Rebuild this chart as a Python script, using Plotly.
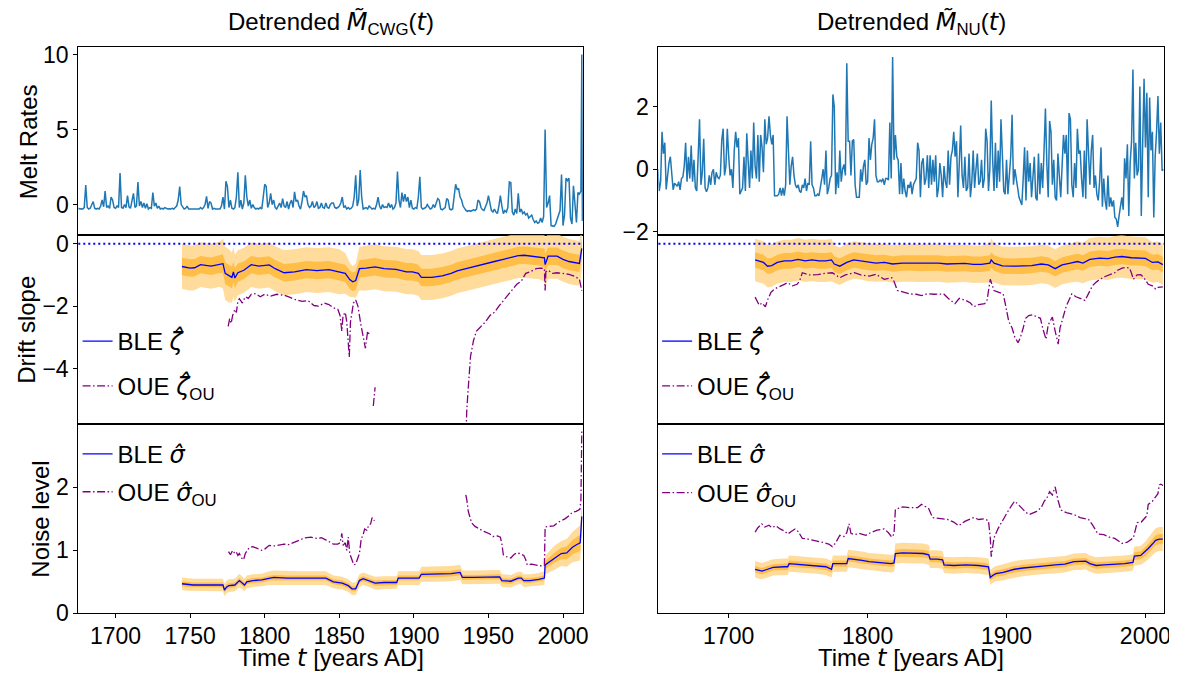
import plotly.graph_objects as go

W, H = 1177, 675
FONT = "Arial, 'Liberation Sans', sans-serif"
MATH = "font-family:'DejaVu Sans'"

# ---------------- data ----------------
# Detrended melt rates, CWG core  (year, value)
cwg_melt = [
(1675,-0.25),(1676,-0.3),(1677,-0.28),(1678,-0.3),(1679,-0.2),(1680,1.3),(1681,-0.2),(1682,-0.3),(1683,-0.25),(1684,0.0),
(1685,0.2),(1686,-0.25),(1687,-0.3),(1688,-0.25),(1689,-0.3),(1690,-0.1),(1691,0.3),(1692,-0.15),(1693,0.9),(1694,-0.2),
(1695,-0.1),(1696,-0.25),(1697,0.5),(1698,0.3),(1699,-0.2),(1700,-0.25),(1701,-0.1),(1702,-0.2),(1703,2.1),(1704,-0.2),
(1705,-0.25),(1706,0.0),(1707,-0.2),(1708,0.6),(1709,-0.15),(1710,-0.25),(1711,0.4),(1712,0.75),(1713,-0.2),(1714,-0.1),
(1715,1.5),(1716,-0.1),(1717,0.2),(1718,-0.2),(1719,0.1),(1720,-0.25),(1721,0.05),(1722,-0.3),(1723,-0.2),(1724,-0.25),
(1725,0.8),(1726,-0.1),(1727,0.1),(1728,-0.25),(1729,-0.1),(1730,-0.3),(1731,-0.25),(1732,-0.3),(1733,-0.2),(1734,-0.25),
(1735,-0.3),(1736,-0.28),(1737,-0.3),(1738,-0.25),(1739,-0.3),(1740,-0.2),(1741,-0.1),(1742,0.3),(1743,1.2),(1744,0.0),
(1745,-0.2),(1746,-0.3),(1747,-0.25),(1748,-0.1),(1749,-0.3),(1750,-0.3),(1751,-0.3),(1752,-0.28),(1753,-0.3),(1754,-0.3),
(1755,-0.32),(1756,-0.3),(1757,-0.2),(1758,-0.3),(1759,-0.2),(1760,0.0),(1761,0.55),(1762,-0.25),(1763,0.2),(1764,0.1),
(1765,-0.3),(1766,-0.25),(1767,-0.3),(1768,-0.3),(1769,-0.25),(1770,-0.3),(1771,-0.1),(1772,0.5),(1773,-0.3),(1774,1.55),
(1775,1.2),(1776,-0.2),(1777,0.3),(1778,-0.25),(1779,-0.3),(1780,-0.2),(1781,0.5),(1782,2.15),(1783,-0.2),(1784,0.3),
(1785,-0.3),(1786,0.1),(1787,1.95),(1788,0.5),(1789,-0.1),(1790,0.3),(1791,-0.25),(1792,0.0),(1793,-0.2),(1794,-0.3),
(1795,-0.25),(1796,-0.3),(1797,-0.2),(1798,-0.3),(1799,0.5),(1800,1.35),(1801,1.2),(1802,-0.2),(1803,0.1),(1804,0.75),
(1805,0.0),(1806,0.3),(1807,-0.2),(1808,-0.3),(1809,-0.1),(1810,0.1),(1811,-0.2),(1812,0.4),(1813,-0.1),(1814,-0.2),
(1815,0.2),(1816,-0.3),(1817,0.1),(1818,0.3),(1819,-0.2),(1820,0.85),(1821,0.2),(1822,0.3),(1823,-0.1),(1824,-0.3),
(1825,0.2),(1826,0.9),(1827,0.5),(1828,0.6),(1829,0.0),(1830,-0.2),(1831,-0.1),(1832,0.2),(1833,-0.2),(1834,-0.1),
(1835,0.2),(1836,-0.25),(1837,-0.2),(1838,0.1),(1839,-0.2),(1840,-0.25),(1841,0.1),(1842,-0.2),(1843,-0.25),(1844,0.0),
(1845,0.1),(1846,0.1),(1847,-0.2),(1848,-0.25),(1849,-0.2),(1850,-0.1),(1851,0.1),(1852,0.5),(1853,-0.2),(1854,-0.1),
(1855,-0.3),(1856,-0.2),(1857,-0.3),(1858,-0.25),(1859,-0.1),(1860,0.5),(1861,1.95),(1862,-0.1),(1863,0.3),(1864,2.3),
(1865,0.5),(1866,-0.3),(1867,-0.25),(1868,-0.2),(1869,-0.3),(1870,-0.1),(1871,-0.2),(1872,-0.3),(1873,-0.25),(1874,-0.3),
(1875,0.0),(1876,0.5),(1877,-0.1),(1878,-0.3),(1879,0.0),(1880,-0.2),(1881,-0.15),(1882,-0.2),(1883,0.1),(1884,-0.2),
(1885,0.0),(1886,-0.3),(1887,-0.2),(1888,0.1),(1889,2.2),(1890,0.3),(1891,-0.2),(1892,0.8),(1893,0.2),(1894,0.7),
(1895,0.2),(1896,0.5),(1897,-0.2),(1898,0.3),(1899,-0.25),(1900,-0.3),(1901,-0.2),(1902,-0.25),(1903,0.5),(1904,1.85),
(1905,-0.2),(1906,-0.3),(1907,-0.25),(1908,-0.2),(1909,0.0),(1910,-0.2),(1911,-0.3),(1912,-0.25),(1913,0.0),(1914,-0.2),
(1915,0.1),(1916,0.4),(1917,0.3),(1918,-0.3),(1919,-0.35),(1920,-0.3),(1921,-0.2),(1922,0.4),(1923,0.3),(1924,-0.3),
(1925,-0.35),(1926,-0.3),(1927,0.5),(1928,1.35),(1929,1.0),(1930,1.05),(1931,0.5),(1932,0.3),(1933,-0.1),(1934,-0.3),
(1935,-0.4),(1936,-0.45),(1937,-0.4),(1938,-0.45),(1939,-0.4),(1940,-0.35),(1941,-0.4),(1942,-0.3),(1943,0.3),(1944,0.2),
(1945,-0.2),(1946,-0.35),(1947,-0.4),(1948,-0.2),(1949,0.1),(1950,0.6),(1951,0.2),(1952,-0.4),(1953,-0.5),(1954,-0.3),
(1955,-0.5),(1956,-0.6),(1957,-0.1),(1958,0.6),(1959,-0.1),(1960,-0.6),(1961,-0.4),(1962,-0.5),(1963,-0.2),(1964,1.5),
(1965,1.45),(1966,-0.5),(1967,-0.7),(1968,-0.3),(1969,-0.6),(1970,0.75),(1971,-0.5),(1972,-0.3),(1973,-0.6),(1974,-0.5),
(1975,-0.7),(1976,-0.6),(1977,-0.9),(1978,-0.8),(1979,-0.7),(1980,-1.0),(1981,-1.2),(1982,-1.1),(1983,-1.25),(1984,-1.2),
(1985,-0.9),(1986,-1.2),(1987,-0.8),(1988,5.0),(1989,-0.2),(1990,0.1),(1991,0.6),(1992,-1.4),(1993,-1.45),(1994,-1.45),
(1995,-1.3),(1996,-1.0),(1997,-0.6),(1998,-0.4),(1999,2.0),(2000,-1.4),(2001,-0.7),(2002,1.75),(2003,1.6),(2004,1.75),
(2005,-0.9),(2006,-1.3),(2007,1.25),(2008,0.2),(2009,-1.2),(2010,0.8),(2011,0.7),(2012,0.9),(2012.6,10.0),(2013,-1.1)]

# Detrended melt rates, NU core  (year, value)
nu_melt = [
(1649,0.0),(1650,-0.7),(1651,-0.4),(1652,1.2),(1653,0.5),(1654,0.85),(1655,-0.65),(1656,-0.2),(1657,0.2),(1658,0.4),
(1659,-0.3),(1660,-0.66),(1661,-0.45),(1662,-0.5),(1663,-0.55),(1664,-0.4),(1665,-0.66),(1666,-0.3),(1667,-0.25),(1668,0.1),
(1669,0.85),(1670,-0.4),(1671,0.4),(1672,-0.3),(1673,0.76),(1674,-0.4),(1675,0.3),(1676,-0.6),(1677,-0.7),(1678,0.4),
(1679,1.6),(1680,-0.5),(1681,-0.1),(1682,0.98),(1683,-0.6),(1684,-0.72),(1685,-0.6),(1686,-0.2),(1687,-0.5),(1688,-0.1),
(1689,0.0),(1690,-0.5),(1691,-0.1),(1692,-0.25),(1693,-0.3),(1694,-0.2),(1695,0.93),(1696,1.3),(1697,-0.2),(1698,0.1),
(1699,1.3),(1700,0.4),(1701,-0.2),(1702,0.0),(1703,-0.6),(1704,0.6),(1705,1.2),(1706,0.7),(1707,1.0),(1708,-0.8),
(1709,-0.7),(1710,-0.6),(1711,0.4),(1712,-0.7),(1713,1.15),(1714,0.1),(1715,-0.6),(1716,0.6),(1717,-0.3),(1718,1.5),
(1719,0.1),(1720,-0.3),(1721,1.1),(1722,-0.4),(1723,1.1),(1724,0.7),(1725,-0.1),(1726,1.6),(1727,0.8),(1728,1.0),
(1729,1.7),(1730,1.1),(1731,0.8),(1732,1.1),(1733,-0.85),(1734,-0.85),(1735,-0.85),(1736,-0.8),(1737,-0.6),(1738,-0.85),
(1739,-0.6),(1740,-0.85),(1741,-0.5),(1742,1.7),(1743,0.2),(1744,-0.5),(1745,0.1),(1746,0.4),(1747,-0.2),(1748,-0.5),
(1749,-0.6),(1750,-0.5),(1751,-0.7),(1752,-0.75),(1753,-0.5),(1754,-0.6),(1755,-0.3),(1756,-0.7),(1757,-0.45),(1758,-0.5),
(1759,0.9),(1760,-0.5),(1761,-0.6),(1762,-0.85),(1763,-0.85),(1764,-0.8),(1765,-0.85),(1766,-0.5),(1767,-0.3),(1768,0.0),
(1769,-0.5),(1770,0.6),(1771,-0.8),(1772,-0.6),(1773,-0.3),(1774,-0.2),(1775,2.4),(1776,2.0),(1777,-0.8),(1778,-0.1),
(1779,-0.6),(1780,0.6),(1781,-0.4),(1782,0.0),(1783,0.15),(1784,-0.2),(1785,3.4),(1786,0.9),(1787,0.9),(1788,-0.2),
(1789,0.9),(1790,0.95),(1791,-0.5),(1792,-0.9),(1793,-0.9),(1794,-0.9),(1795,0.0),(1796,-0.4),(1797,0.1),(1798,0.3),
(1799,-0.5),(1800,-0.4),(1801,1.0),(1802,0.3),(1803,0.8),(1804,1.0),(1805,1.6),(1806,-0.2),(1807,-0.4),(1808,-0.4),
(1809,-0.35),(1810,-0.4),(1811,-0.3),(1812,-0.5),(1813,-0.3),(1814,-0.3),(1815,-0.35),(1816,1.5),(1817,-0.3),(1818,3.6),
(1819,0.3),(1820,1.1),(1821,0.4),(1822,0.3),(1823,-0.8),(1824,0.2),(1825,-0.8),(1826,-0.3),(1827,-0.7),(1828,-0.9),
(1829,-0.5),(1830,-0.6),(1831,-0.4),(1832,-0.8),(1833,-0.5),(1834,-0.4),(1835,-0.3),(1836,0.85),(1837,0.6),(1838,-0.9),
(1839,0.2),(1840,0.35),(1841,-0.5),(1842,-0.3),(1843,0.45),(1844,-0.6),(1845,0.45),(1846,-0.5),(1847,0.3),(1848,-0.4),
(1849,0.45),(1850,-0.9),(1851,-0.6),(1852,0.2),(1853,-0.2),(1854,-0.9),(1855,0.1),(1856,-0.4),(1857,-0.6),(1858,0.6),
(1859,-0.5),(1860,0.4),(1861,0.6),(1862,1.2),(1863,0.4),(1864,0.9),(1865,-0.9),(1866,0.2),(1867,1.4),(1868,-0.2),
(1869,-0.6),(1870,0.4),(1871,-0.7),(1872,-0.6),(1873,0.5),(1874,-0.9),(1875,-0.4),(1876,0.6),(1877,-0.6),(1878,0.0),
(1879,0.5),(1880,-0.5),(1881,-0.4),(1882,0.3),(1883,-0.6),(1884,-0.3),(1885,1.3),(1886,0.9),(1887,-0.7),(1888,0.0),
(1889,2.2),(1890,0.3),(1891,-0.7),(1892,0.85),(1893,-0.6),(1894,0.6),(1895,-0.4),(1896,1.6),(1897,0.5),(1898,-0.7),
(1899,-0.8),(1900,0.3),(1901,-0.8),(1902,-0.2),(1903,0.4),(1904,1.75),(1905,-0.5),(1906,0.0),(1907,-0.4),(1908,-0.6),
(1909,-0.9),(1910,-1.0),(1911,-1.15),(1912,-0.3),(1913,0.7),(1914,-1.0),(1915,0.6),(1916,-0.4),(1917,0.2),(1918,-0.9),
(1919,-0.3),(1920,0.4),(1921,-0.9),(1922,-1.0),(1923,0.5),(1924,-0.8),(1925,0.2),(1926,-0.6),(1927,0.6),(1928,1.95),
(1929,0.2),(1930,-0.9),(1931,1.55),(1932,1.2),(1933,-0.5),(1934,0.3),(1935,-0.9),(1936,-1.0),(1937,0.5),(1938,-0.4),
(1939,-0.9),(1940,0.1),(1941,1.1),(1942,0.5),(1943,1.1),(1944,-0.8),(1945,1.8),(1946,1.6),(1947,-0.5),(1948,-0.9),
(1949,0.2),(1950,-0.6),(1951,1.3),(1952,0.5),(1953,0.6),(1954,-0.3),(1955,-0.9),(1956,0.6),(1957,-0.95),(1958,1.6),
(1959,0.5),(1960,-0.5),(1961,0.6),(1962,1.1),(1963,-0.6),(1964,-0.2),(1965,-0.8),(1966,-1.0),(1967,-0.4),(1968,0.7),
(1969,-1.2),(1970,-0.3),(1971,-1.0),(1972,-1.3),(1973,-0.2),(1974,-1.2),(1975,-0.9),(1976,-1.2),(1977,-1.0),(1978,-1.55),
(1979,-1.6),(1980,-1.85),(1981,-1.5),(1982,-1.2),(1983,-0.9),(1984,-1.3),(1985,0.35),(1986,-0.3),(1987,0.8),(1988,-1.5),
(1989,0.2),(1990,0.9),(1991,3.2),(1992,-0.3),(1993,0.85),(1994,-0.2),(1995,0.0),(1996,2.65),(1997,-1.5),(1998,0.8),
(1999,2.9),(2000,0.7),(2001,2.45),(2002,-0.9),(2003,2.3),(2004,0.6),(2005,1.2),(2006,-1.55),(2007,0.4),(2008,1.2),
(2009,2.35),(2010,0.5),(2011,1.5),(2012,-0.05),(2013,0.0)]

# BLE drift slope, CWG: (year, estimate, inner half-width, outer half-width)
ble_zeta_cwg = [
(1744.5,-0.73,0.28,0.72),(1750,-0.78,0.28,0.72),(1753,-0.77,0.28,0.72),(1757,-0.67,0.28,0.72),(1764,-0.72,0.28,0.72),
(1770,-0.66,0.28,0.72),(1772,-0.64,0.3,0.8),(1773.5,-0.95,0.35,0.85),(1776,-1.03,0.35,0.85),(1778,-1.08,0.35,0.8),
(1779,-0.9,0.33,0.8),(1780,-1.1,0.33,0.75),(1782,-0.93,0.3,0.72),(1786,-0.85,0.28,0.72),(1791,-0.67,0.28,0.72),
(1796,-0.72,0.28,0.72),(1803,-0.68,0.28,0.72),(1807,-0.8,0.28,0.72),(1813,-0.93,0.28,0.72),(1820,-0.9,0.28,0.72),
(1828,-0.83,0.28,0.72),(1835,-0.86,0.28,0.72),(1843,-0.83,0.28,0.72),(1850,-0.9,0.28,0.72),(1854,-0.95,0.28,0.65),
(1857,-1.15,0.3,0.55),(1859,-1.22,0.3,0.5),(1861,-1.18,0.3,0.55),(1863.5,-0.8,0.28,0.7),(1868,-0.78,0.28,0.72),
(1874,-0.74,0.28,0.72),(1880,-0.8,0.28,0.72),(1888,-0.82,0.28,0.72),(1895,-0.9,0.28,0.72),(1899,-0.9,0.28,0.72),
(1903,-0.95,0.28,0.72),(1905,-1.08,0.28,0.72),(1912,-1.08,0.28,0.72),(1919,-1.03,0.28,0.72),(1925,-0.95,0.28,0.72),
(1929,-0.87,0.28,0.72),(1935,-0.8,0.28,0.72),(1941,-0.72,0.28,0.72),(1947,-0.65,0.28,0.72),(1954,-0.57,0.28,0.72),
(1960,-0.5,0.28,0.72),(1966,-0.42,0.28,0.72),(1970,-0.38,0.28,0.72),(1974,-0.37,0.28,0.72),(1979,-0.4,0.28,0.72),
(1984,-0.42,0.28,0.72),(1987.5,-0.45,0.3,0.75),(1988,-0.67,0.35,0.85),(1989,-0.5,0.3,0.75),(1990,-0.4,0.28,0.72),
(1996,-0.4,0.28,0.72),(2000,-0.5,0.28,0.72),(2004,-0.57,0.28,0.72),(2008,-0.6,0.28,0.72),(2011,-0.63,0.28,0.72),
(2012.6,-0.15,0.3,0.7)]

# BLE drift slope, NU
ble_zeta_nu = [
(1719,-0.52,0.25,0.68),(1722,-0.55,0.25,0.68),(1725,-0.6,0.25,0.68),(1728,-0.72,0.25,0.68),(1731,-0.7,0.25,0.68),
(1735,-0.6,0.25,0.68),(1740,-0.55,0.25,0.68),(1745,-0.55,0.25,0.68),(1750,-0.5,0.25,0.68),(1755,-0.55,0.25,0.68),
(1760,-0.52,0.25,0.68),(1765,-0.55,0.25,0.68),(1770,-0.55,0.25,0.68),(1774,-0.52,0.25,0.68),(1776,-0.65,0.25,0.6),
(1780,-0.72,0.25,0.6),(1785,-0.6,0.25,0.6),(1790,-0.52,0.25,0.6),(1795,-0.55,0.25,0.6),(1800,-0.6,0.25,0.6),
(1806,-0.62,0.25,0.6),(1812,-0.6,0.25,0.6),(1818,-0.65,0.25,0.6),(1825,-0.62,0.25,0.6),(1831,-0.62,0.25,0.6),
(1838,-0.63,0.25,0.6),(1845,-0.63,0.25,0.6),(1851,-0.62,0.25,0.6),(1857,-0.65,0.25,0.6),(1863,-0.64,0.25,0.6),
(1870,-0.63,0.25,0.6),(1876,-0.66,0.25,0.6),(1882,-0.66,0.25,0.6),(1888,-0.62,0.25,0.62),(1889,-0.52,0.25,0.7),
(1891,-0.62,0.25,0.62),(1897,-0.71,0.25,0.62),(1905,-0.72,0.25,0.62),(1911,-0.72,0.25,0.62),(1918,-0.7,0.25,0.62),
(1925,-0.65,0.25,0.62),(1930,-0.68,0.25,0.62),(1935,-0.8,0.25,0.62),(1940,-0.68,0.25,0.62),(1946,-0.62,0.25,0.62),
(1951,-0.57,0.25,0.65),(1955,-0.62,0.25,0.65),(1960,-0.5,0.25,0.68),(1967,-0.46,0.25,0.68),(1973,-0.48,0.25,0.68),
(1978,-0.43,0.25,0.68),(1983,-0.41,0.25,0.68),(1990,-0.45,0.25,0.68),(1996,-0.45,0.25,0.68),(2000,-0.47,0.25,0.68),
(2005,-0.6,0.25,0.65),(2009,-0.58,0.25,0.65),(2012.5,-0.67,0.25,0.65)]

# OUE drift slope (None = gap in the estimate)
oue_zeta_cwg = [
(1775.5,-2.65),(1776.5,-2.4),(1777.5,-2.55),(1778.5,-2.3),(1780,-2.1),(1781,-2.2),(1782,-1.85),(1783,-1.76),(1785,-1.9),
(1787,-1.7),(1789,-1.75),(1791,-1.62),(1794,-1.6),(1797,-1.7),(1800,-1.62),(1804,-1.68),(1808,-1.62),(1813,-1.65),
(1817,-1.72),(1821,-1.8),(1825,-1.85),(1829,-1.82),(1833,-1.98),(1836,-2.0),(1840,-1.9),(1843,-1.95),(1846,-2.05),
(1849,-2.1),(1850.5,-2.3),(1851.7,-2.8),(1852.5,-2.3),(1854,-2.2),(1855,-2.5),(1856.7,-3.63),(1857.5,-2.5),
(1858.5,-2.2),(1859.5,-1.9),(1861,-1.8),(1862.5,-2.0),(1864.5,-2.6),(1866,-3.0),(1867.5,-3.35),(1869,-2.8),(1870,-2.9),
None,
(1872.8,-5.2),(1873.4,-4.9),(1874,-4.6),
None,
(1934.7,-6.5),(1935.5,-5.3),(1936.5,-4.6),(1938,-3.6),(1940,-3.1),(1942,-2.8),(1944,-2.7),(1946,-2.6),(1948,-2.5),
(1951,-2.3),(1954,-2.2),(1957,-2.0),(1961,-1.76),(1964,-1.6),(1966,-1.45),(1969,-1.3),(1972,-1.2),(1975,-0.95),
(1978,-0.9),(1982,-0.8),(1985,-0.78),(1987.5,-0.8),(1988,-1.5),(1988.5,-0.9),(1990,-0.85),(1993,-0.95),(1996,-0.93),
(2000,-0.95),(2004,-0.98),(2008,-1.05),(2011,-1.14),(2012.6,-1.5)]

oue_zeta_nu = [
(1719,-1.71),(1720.5,-1.85),(1722,-1.97),(1724,-1.9),(1726.4,-2.02),(1728,-1.8),(1730.4,-1.56),(1733,-1.45),(1737,-1.35),
(1740,-1.3),(1742.5,-1.25),(1746,-1.35),(1749.2,-1.3),(1751,-1.2),(1753,-0.93),(1758,-1.0),(1764,-0.99),(1769,-0.95),
(1774.6,-0.93),(1777,-1.0),(1780,-1.09),(1784,-1.0),(1790.6,-0.93),(1795,-1.0),(1801.3,-1.04),(1806,-0.98),(1812,-1.14),
(1817.4,-1.09),(1819,-1.2),(1821.4,-1.5),(1826,-1.55),(1830.8,-1.61),(1835,-1.62),(1838.8,-1.66),(1843,-1.6),
(1848,-1.62),(1854.8,-1.61),(1858,-1.75),(1862.9,-1.92),(1866,-1.75),(1870.9,-1.82),(1874,-1.9),(1876.3,-2.02),
(1880,-1.95),(1884.3,-1.92),(1886,-1.8),(1888.3,-1.14),(1890,-1.4),(1891,-1.5),(1894,-1.55),(1897.6,-1.61),(1899,-1.9),
(1901.6,-2.49),(1904,-2.7),(1906,-3.0),(1908.3,-3.17),(1910,-3.0),(1912,-2.7),(1913.7,-2.39),(1916,-2.3),(1919,-2.28),
(1922,-2.35),(1924.4,-2.39),(1926,-2.7),(1928.4,-3.06),(1930,-2.6),(1933,-2.35),(1935,-2.8),(1937.2,-3.22),
(1938.5,-2.7),(1940.4,-2.39),(1943,-2.0),(1947,-1.61),(1950,-1.7),(1953,-1.75),(1956.5,-1.82),(1959,-1.6),
(1961.8,-1.35),(1964,-1.25),(1967.2,-1.14),(1971,-1.05),(1974,-1.0),(1977.9,-0.93),(1980,-0.85),(1983.2,-0.78),
(1986,-0.76),(1988.6,-0.78),(1990,-0.95),(1991.3,-1.14),(1994,-1.0),(1996.6,-0.99),(1999,-1.1),(2002,-1.3),
(2005,-1.35),(2007.3,-1.45),(2009,-1.4),(2011.3,-1.4),(2012.5,-1.38)]

# BLE noise level: (year, estimate, inner half-width, outer half-width)
ble_sigma_cwg = [
(1744.5,0.47,0.04,0.1),(1748,0.46,0.04,0.1),(1752,0.45,0.04,0.1),(1760,0.45,0.04,0.1),(1768,0.45,0.04,0.1),
(1772,0.45,0.04,0.1),(1773,0.37,0.04,0.1),(1774.5,0.42,0.04,0.1),(1776,0.44,0.04,0.1),(1780,0.45,0.04,0.1),
(1783,0.52,0.04,0.11),(1785,0.48,0.04,0.1),(1786.5,0.45,0.04,0.1),(1788,0.5,0.04,0.1),(1792,0.52,0.04,0.1),
(1798,0.53,0.04,0.1),(1803,0.56,0.04,0.11),(1806,0.57,0.04,0.11),(1815,0.56,0.04,0.11),(1825,0.56,0.04,0.11),
(1835,0.56,0.04,0.11),(1841,0.56,0.04,0.11),(1846,0.5,0.04,0.1),(1852,0.48,0.04,0.1),(1856,0.44,0.04,0.1),
(1858.5,0.39,0.04,0.1),(1861,0.39,0.04,0.1),(1863.5,0.52,0.04,0.1),(1866,0.55,0.04,0.1),(1870,0.52,0.04,0.1),
(1874,0.48,0.04,0.1),(1880,0.49,0.04,0.1),(1888.5,0.49,0.04,0.1),(1889.5,0.56,0.04,0.11),(1895,0.56,0.04,0.11),
(1903.5,0.56,0.04,0.11),(1905,0.62,0.045,0.12),(1915,0.62,0.045,0.12),(1925,0.63,0.045,0.12),(1931,0.65,0.045,0.12),
(1932.5,0.57,0.04,0.11),(1940,0.57,0.04,0.11),(1950,0.58,0.04,0.11),(1957.5,0.58,0.04,0.11),(1959,0.52,0.04,0.1),
(1965,0.51,0.04,0.1),(1970,0.56,0.04,0.1),(1972,0.56,0.04,0.1),(1973.7,0.52,0.04,0.1),(1978,0.52,0.04,0.1),
(1983.7,0.54,0.04,0.1),(1987.5,0.56,0.04,0.11),(1988,0.77,0.06,0.15),(1991,0.82,0.07,0.17),(1994,0.88,0.08,0.19),
(1998.8,0.95,0.09,0.2),(2002.5,0.96,0.1,0.22),(2006.3,1.05,0.11,0.24),(2009,1.09,0.12,0.26),(2011.5,1.12,0.13,0.28),
(2012.6,1.54,0.15,0.3)]

ble_sigma_nu = [
(1719,0.70,0.05,0.13),(1722,0.68,0.05,0.13),(1724,0.67,0.05,0.13),(1728,0.7,0.05,0.13),(1732,0.73,0.05,0.13),
(1740,0.74,0.05,0.13),(1742.5,0.74,0.05,0.13),(1743.5,0.79,0.05,0.13),(1750,0.78,0.05,0.13),(1757,0.77,0.05,0.13),
(1764,0.76,0.05,0.13),(1770,0.74,0.05,0.13),(1774,0.7,0.05,0.13),(1775,0.79,0.05,0.13),(1780,0.79,0.05,0.13),
(1785,0.79,0.05,0.13),(1786,0.87,0.05,0.14),(1791,0.86,0.05,0.14),(1796,0.84,0.05,0.14),(1801,0.82,0.05,0.14),
(1806.7,0.81,0.05,0.14),(1812,0.8,0.05,0.14),(1817,0.79,0.05,0.14),(1819,0.8,0.05,0.14),(1820,0.95,0.06,0.16),
(1825,0.96,0.06,0.16),(1833,0.95,0.06,0.16),(1840,0.95,0.06,0.16),(1844,0.93,0.06,0.16),(1845,0.86,0.05,0.14),
(1850,0.86,0.05,0.14),(1854,0.85,0.05,0.14),(1855,0.77,0.05,0.13),(1862,0.76,0.05,0.13),(1870.9,0.77,0.05,0.13),
(1880,0.76,0.05,0.13),(1887,0.74,0.05,0.13),(1888.3,0.57,0.05,0.12),(1890,0.6,0.05,0.12),(1892.3,0.63,0.05,0.12),
(1897.6,0.65,0.05,0.13),(1902,0.68,0.05,0.13),(1905.7,0.7,0.05,0.13),(1912,0.72,0.05,0.13),(1919,0.74,0.05,0.13),
(1926,0.75,0.05,0.13),(1935,0.77,0.05,0.13),(1942,0.78,0.05,0.13),(1948.5,0.82,0.05,0.13),(1953,0.82,0.05,0.13),
(1957,0.83,0.05,0.13),(1960,0.79,0.05,0.13),(1964.5,0.76,0.05,0.13),(1970,0.77,0.05,0.13),(1977.9,0.78,0.05,0.13),
(1985,0.79,0.05,0.13),(1991,0.81,0.05,0.13),(1992,0.91,0.06,0.15),(1996.6,0.92,0.06,0.15),(2000,0.98,0.07,0.16),
(2002,1.03,0.07,0.17),(2005,1.1,0.08,0.18),(2007.3,1.16,0.08,0.19),(2010,1.18,0.08,0.19),(2012.5,1.18,0.08,0.19)]

# OUE noise level
oue_sigma_cwg = [
(1775.7,0.98),(1777,0.93),(1778.5,1.0),(1780,0.95),(1781,0.97),(1782,0.92),(1783,0.95),(1784.5,0.88),(1785.8,0.85),
(1787,0.95),(1789.5,1.04),(1792,1.06),(1795,1.03),(1798,1.0),(1800,1.02),(1803,1.08),(1807,1.07),(1810,1.09),
(1813,1.1),(1816,1.09),(1819,1.12),(1823,1.16),(1827,1.2),(1831,1.21),(1835,1.19),(1838,1.2),(1841,1.17),(1843,1.14),
(1846,1.1),(1849,1.1),(1850.5,1.12),(1851.7,1.27),(1852.5,1.08),(1854,1.12),(1855,1.0),(1856,1.21),(1857,0.95),
(1858.5,0.85),(1859.7,0.77),(1861,0.78),(1862,0.84),(1863.5,0.95),(1864.7,1.18),(1866,1.25),(1867,1.34),(1868.5,1.32),
(1869.7,1.4),(1871,1.42),(1872,1.52),(1873.5,1.47),
None,
(1934.8,1.88),(1935.5,1.8),(1936.5,1.62),(1938.6,1.44),(1941,1.38),(1943.7,1.34),(1947,1.3),(1951,1.26),(1953,1.22),
(1956,1.23),(1958,1.21),(1959,1.1),(1960,0.93),(1962,0.9),(1965,0.88),(1967,0.93),(1968.7,0.96),(1971,0.95),
(1973.7,0.92),(1975,0.85),(1976,0.77),(1979,0.78),(1981,0.77),(1983,0.76),(1986,0.75),(1987.5,0.76),(1988,1.37),
(1990,1.38),(1993.8,1.39),(1997,1.45),(2001.3,1.5),(2004,1.55),(2006,1.6),(2008.8,1.62),(2011.3,1.65),(2012,1.8),
(2012.6,2.9)]

oue_sigma_nu = [
(1719,1.29),(1721,1.36),(1723.8,1.42),(1726,1.37),(1729,1.4),(1731,1.36),(1734,1.39),(1737,1.34),(1740,1.31),
(1742.5,1.26),(1745,1.3),(1747.8,1.34),(1750,1.3),(1753,1.19),(1757,1.18),(1761,1.16),(1765,1.15),(1769,1.12),
(1772,1.1),(1774.6,1.06),(1777,1.12),(1780,1.24),(1783,1.22),(1785,1.28),(1786.6,1.42),(1788,1.27),(1790.6,1.25),
(1794,1.27),(1798.7,1.24),(1802,1.28),(1806.7,1.32),(1812,1.34),(1815,1.28),(1817.4,1.21),(1819,1.26),(1820,1.65),
(1825.4,1.69),(1830,1.68),(1836,1.68),(1838.8,1.73),(1842,1.69),(1844,1.66),(1846.8,1.52),(1850,1.51),(1854,1.49),
(1857.5,1.49),(1862,1.45),(1865.5,1.39),(1870,1.46),(1876.3,1.52),(1880,1.49),(1884,1.5),(1887,1.47),(1888.3,1.2),
(1889,0.9),(1890,1.1),(1891,1.2),(1894,1.35),(1897.6,1.5),(1901,1.62),(1905.7,1.78),(1908,1.74),(1911,1.67),
(1914,1.6),(1916.4,1.57),(1919,1.6),(1921.7,1.62),(1925,1.68),(1927.1,1.78),(1929,1.83),(1931,1.93),(1933,1.88),
(1935,2.01),(1937,1.8),(1939.1,1.64),(1943,1.6),(1948.5,1.57),(1953,1.52),(1957,1.5),(1959.1,1.49),(1962,1.4),
(1965.8,1.26),(1970,1.25),(1974,1.21),(1977.9,1.19),(1981,1.14),(1983.2,1.11),(1987,1.13),(1991.3,1.2),(1993,1.35),
(1994,1.44),(1997,1.45),(1999.3,1.5),(2001,1.55),(2002,1.73),(2005,1.78),(2007.3,1.85),(2009,1.9),(2010,2.04),
(2011,2.05),(2012.7,2.03)]

x_range_cwg = [1675, 2013.3]
x_range_nu = [1649.4, 2013.2]
x_ticks_cwg = [1700, 1750, 1800, 1850, 1900, 1950, 2000]
x_ticks_nu = [1700, 1800, 1900, 2000]
y_range_melt_cwg = [-2.05, 10.48]
y_range_melt_nu = [-2.12, 3.91]
y_range_drift = [-5.79, 0.27]
y_range_noise = [0.0, 3.0]
y_ticks_melt_cwg = [0, 5, 10]
y_ticks_melt_nu = [-2, 0, 2]
y_ticks_drift = [-4, -2, 0]
y_ticks_noise = [0, 1, 2]

# ---------------- styles ----------------
MELT_C = "#1f77b4"
BLE_C = "#0000ff"
OUE_C = "#800080"
OUTER_C = "rgb(255,220,155)"
INNER_C = "rgb(255,190,72)"
TICK_SIZE = 23
LABEL_SIZE = 24
TITLE_SIZE = 24
LEGEND_SIZE = 24


def xy(points):
    xs, ys = [], []
    for p in points:
        if p is None:
            xs.append(None); ys.append(None)
        else:
            xs.append(p[0]); ys.append(p[1])
    return xs, ys


def band(points, k):
    xs = [p[0] for p in points]
    up = [p[1] + p[k] for p in points]
    lo = [p[1] - p[k] for p in points]
    return xs + xs[::-1], up + lo[::-1]


def math(s):
    return f'<span style="{MATH}"><i>{s}</i></span>'


fig = go.Figure()

def px_x(p):
    return p / W

def px_y(p):
    return 1 - p / H

col_dom = [[px_x(70.7), px_x(578.3)], [px_x(654.3), px_x(1162.7)]]
row_dom = [[px_y(227.7), px_y(34.3)], [px_y(422.3), px_y(227.7)], [px_y(616.7), px_y(422.3)]]

def ax(c, r):
    return c * 3 + r + 1

def xname(n):
    return "x" if n == 1 else f"x{n}"

def yname(n):
    return "y" if n == 1 else f"y{n}"

melt = [cwg_melt, nu_melt]
ble_z = [ble_zeta_cwg, ble_zeta_nu]
oue_z = [oue_zeta_cwg, oue_zeta_nu]
ble_s = [ble_sigma_cwg, ble_sigma_nu]
oue_s = [oue_sigma_cwg, oue_sigma_nu]

leg_ids = {(0, 1): ("legend", "legend2"), (0, 2): ("legend3", "legend4"),
           (1, 1): ("legend5", "legend6"), (1, 2): ("legend7", "legend8")}

for c in range(2):
    n = ax(c, 0)
    mx, my = xy(melt[c])
    fig.add_trace(go.Scatter(x=mx, y=my, mode="lines", line=dict(color=MELT_C, width=1.5),
                             xaxis=xname(n), yaxis=yname(n), showlegend=False, hoverinfo="skip"))
    for r, (ble, oue, sym) in zip((1, 2), ((ble_z[c], oue_z[c], "ζ\u0302"), (ble_s[c], oue_s[c], "σ\u0302"))):
        n = ax(c, r)
        bx, by = band(ble, 3)
        fig.add_trace(go.Scatter(x=bx, y=by, fill="toself", fillcolor=OUTER_C, mode="lines",
                                 line=dict(width=0, color=OUTER_C), xaxis=xname(n), yaxis=yname(n),
                                 showlegend=False, hoverinfo="skip"))
        bx, by = band(ble, 2)
        fig.add_trace(go.Scatter(x=bx, y=by, fill="toself", fillcolor=INNER_C, mode="lines",
                                 line=dict(width=0, color=INNER_C), xaxis=xname(n), yaxis=yname(n),
                                 showlegend=False, hoverinfo="skip"))
        lx, ly = xy(ble)
        l1, l2 = leg_ids[(c, r)]
        fig.add_trace(go.Scatter(x=lx, y=ly, mode="lines", line=dict(color=BLE_C, width=1.3),
                                 xaxis=xname(n), yaxis=yname(n), name="BLE " + math(sym),
                                 legend=l1, showlegend=True))
        ox, oy = xy(oue)
        fig.add_trace(go.Scatter(x=ox, y=oy, mode="lines", connectgaps=False,
                                 line=dict(color=OUE_C, width=1.3, dash="8px,2.5px,1.5px,2.5px"),
                                 xaxis=xname(n), yaxis=yname(n),
                                 name="OUE " + math(sym) + "<sub>OU</sub>",
                                 legend=l2, showlegend=True))
    n = ax(c, 1)
    fig.add_shape(type="line", xref=f"{xname(n)} domain", yref=yname(n), x0=0, x1=1, y0=0, y1=0,
                  line=dict(color=BLE_C, width=2, dash="2px,3px"), layer="above")

layout = dict(width=W, height=H, margin=dict(l=0, r=0, t=0, b=0),
              paper_bgcolor="white", plot_bgcolor="white",
              font=dict(family=FONT, size=TICK_SIZE, color="black"), hovermode=False)

x_ranges = [x_range_cwg, x_range_nu]
x_ticks = [x_ticks_cwg, x_ticks_nu]
melt_ranges = [y_range_melt_cwg, y_range_melt_nu]
melt_ticks = [y_ticks_melt_cwg, y_ticks_melt_nu]

for c in range(2):
    for r in range(3):
        n = ax(c, r)
        xa = dict(domain=col_dom[c], range=x_ranges[c], anchor=yname(n),
                  showline=True, mirror=True, linecolor="black", linewidth=1,
                  showgrid=False, zeroline=False, fixedrange=True)
        if r == 2:
            xa.update(tickvals=x_ticks[c], ticks="outside", ticklen=4, tickwidth=1,
                      tickcolor="black", tickfont=dict(size=TICK_SIZE), ticklabelstandoff=-2)
        else:
            xa.update(showticklabels=False, ticks="", matches=xname(ax(c, 2)))
        ya = dict(domain=row_dom[r], anchor=xname(n), showline=True, mirror=True,
                  linecolor="black", linewidth=1, showgrid=False, zeroline=False, fixedrange=True)
        if r == 0:
            ya.update(range=melt_ranges[c], tickvals=melt_ticks[c], ticks="outside", ticklen=4,
                      tickcolor="black", tickfont=dict(size=TICK_SIZE))
        else:
            rng = y_range_drift if r == 1 else y_range_noise
            tv = y_ticks_drift if r == 1 else y_ticks_noise
            ya.update(range=rng)
            if c == 0:
                ya.update(tickvals=tv, ticks="outside", ticklen=4, tickcolor="black",
                          tickfont=dict(size=TICK_SIZE))
            else:
                ya.update(showticklabels=False, ticks="", matches=yname(ax(0, r)))
        layout["xaxis" if n == 1 else f"xaxis{n}"] = xa
        layout["yaxis" if n == 1 else f"yaxis{n}"] = ya

leg_font = dict(family=FONT, size=LEGEND_SIZE, color="black")
leg_pos = {"legend": (70, 337), "legend2": (70, 383), "legend3": (70, 453), "legend4": (70, 492),
           "legend5": (653, 337), "legend6": (653, 383), "legend7": (653, 453), "legend8": (653, 493)}
for name, (lx, ly) in leg_pos.items():
    layout[name] = dict(x=px_x(lx), y=px_y(ly), xanchor="left", yanchor="middle",
                        bgcolor="rgba(0,0,0,0)", borderwidth=0, font=leg_font,
                        itemwidth=30, tracegroupgap=0)

fig.update_layout(**layout)

titles = ["Detrended " + math("M\u0303") + "<sub>CWG</sub>(" + math("t") + ")",
          "Detrended " + math("M\u0303") + "<sub>NU</sub>(" + math("t") + ")"]
for c in range(2):
    cx = (col_dom[c][0] + col_dom[c][1]) / 2
    fig.add_annotation(text=titles[c], x=cx, y=px_y(28), xref="paper", yref="paper",
                       showarrow=False, xanchor="center", yanchor="bottom",
                       font=dict(family=FONT, size=TITLE_SIZE, color="black"))
    fig.add_annotation(text="Time " + math("t") + " [years AD]", x=cx, y=px_y(675),
                       xref="paper", yref="paper", yshift=-4,
                       showarrow=False, xanchor="center", yanchor="bottom",
                       font=dict(family=FONT, size=LABEL_SIZE, color="black"))

ylabels = [("Melt Rates", 20, 131), ("Drift slope", 19, 325), ("Noise level", 33, 519.5)]
for text, xp, yp in ylabels:
    fig.add_annotation(text=text, x=px_x(xp), y=px_y(yp), xref="paper", yref="paper",
                       showarrow=False, textangle=-90, xanchor="center", yanchor="middle",
                       font=dict(family=FONT, size=LABEL_SIZE, color="black"))

fig.write_html("out.html")
